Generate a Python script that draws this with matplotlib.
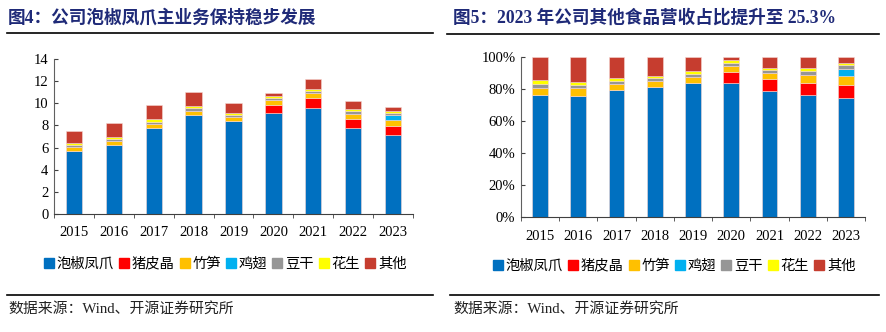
import matplotlib
matplotlib.use("Agg")
import matplotlib.pyplot as plt
from matplotlib.lines import Line2D
import numpy as np

plt.rcParams['font.family'] = ['Liberation Serif', 'Noto Sans CJK SC', 'DejaVu Sans']

years = ['2015', '2016', '2017', '2018', '2019', '2020', '2021', '2022', '2023']
series_names = ['泡椒凤爪', '猪皮晶', '竹笋', '鸡翅', '豆干', '花生', '其他']
colors = ['#0070C0', '#FF0000', '#FFC000', '#00B0F0', '#969696', '#FFFF00', '#C63D2F']

# revenue (亿元) by product
paojiao = [5.70, 6.23, 7.80, 8.95, 8.40, 9.12, 9.60, 7.80, 7.17]
zhupijing = [0.00, 0.00, 0.00, 0.00, 0.00, 0.75, 0.90, 0.78, 0.78]
zhusun = [0.37, 0.40, 0.37, 0.38, 0.40, 0.39, 0.43, 0.46, 0.54]
jichi = [0.00, 0.00, 0.00, 0.00, 0.00, 0.00, 0.00, 0.00, 0.43]
dougan = [0.17, 0.17, 0.18, 0.20, 0.18, 0.24, 0.22, 0.30, 0.21]
huasheng = [0.16, 0.18, 0.20, 0.19, 0.18, 0.18, 0.18, 0.15, 0.17]
qita = [1.10, 1.27, 1.30, 1.28, 0.90, 0.22, 0.84, 0.72, 0.34]

data = np.array([paojiao, zhupijing, zhusun, jichi, dougan, huasheng, qita])
share = data / data.sum(axis=0) * 100

fig = plt.figure(figsize=(8.86, 3.32), dpi=100)

title_color = '#1F2A78'
fig.text(8/886, 1 - 18/332, '图4：公司泡椒凤爪主业务保持稳步发展', fontsize=12.7, fontweight='bold',
         color=title_color, va='center', ha='left')
fig.text(453/886, 1 - 18/332, '图5：2023 年公司其他食品营收占比提升至 25.3%', fontsize=12.7, fontweight='bold',
         color=title_color, va='center', ha='left')

for (xa, xb, y) in [(7, 433, 33), (447, 879, 34), (7, 433, 295), (450, 879, 295)]:
    fig.add_artist(Line2D([xa/886, xb/886], [1 - y/332, 1 - y/332], color='black', lw=1.2))

fig.text(8/886, 1 - 309/332, '数据来源：Wind、开源证券研究所', fontsize=10.7, va='center', ha='left', color='#222222')
fig.text(453/886, 1 - 309/332, '数据来源：Wind、开源证券研究所', fontsize=10.7, va='center', ha='left', color='#222222')

ax1 = fig.add_axes([54/886, 1 - 214/332, (413-54)/886, (214-59)/332])
ax2 = fig.add_axes([521/886, 1 - 217/332, (865-521)/886, (217-57)/332])

x = np.arange(len(years))
for ax, vals in [(ax1, data), (ax2, share)]:
    bottom = np.zeros(len(years))
    for i in range(len(series_names)):
        ax.bar(x, vals[i], width=0.41, bottom=bottom, color=colors[i],
               edgecolor='#F4D7D3', linewidth=0.4)
        bottom += vals[i]
    ax.set_xlim(-0.5, len(years) - 0.5)
    ax.set_xticks(x)
    ax.set_xticklabels(years, fontsize=10.5)
    ax.set_xticks(np.arange(-0.5, len(years) + 0.5, 1), minor=True)
    ax.tick_params(axis='x', which='major', length=0, pad=9)
    ax.tick_params(axis='x', which='minor', length=3, direction='out', color='#404040')
    ax.tick_params(axis='y', length=3, direction='in', labelsize=10.5, color='#404040', pad=4)
    for s in ['top', 'right']:
        ax.spines[s].set_visible(False)
    ax.spines['left'].set_color('#606060')
    ax.spines['bottom'].set_color('#404040')

ax1.set_ylim(0, 14)
ax1.set_yticks(range(0, 15, 2))
ax2.set_ylim(0, 100)
ax2.set_yticks(range(0, 101, 20))
ax2.set_yticklabels([f'{v}%' for v in range(0, 101, 20)])

handles = [Line2D([], [], marker='s', linestyle='none', markersize=6.5, color=c) for c in colors]
fig.legend(handles, series_names, loc='center', bbox_to_anchor=(226/886, 1 - 264/332), ncol=7,
           frameon=False, fontsize=10.3, handlelength=0.5, handletextpad=0.3, columnspacing=0.45,
           borderpad=0)
fig.legend(handles, series_names, loc='center', bbox_to_anchor=(675/886, 1 - 266/332), ncol=7,
           frameon=False, fontsize=10.3, handlelength=0.5, handletextpad=0.3, columnspacing=0.45,
           borderpad=0)

fig.savefig('out.png', dpi=100)
